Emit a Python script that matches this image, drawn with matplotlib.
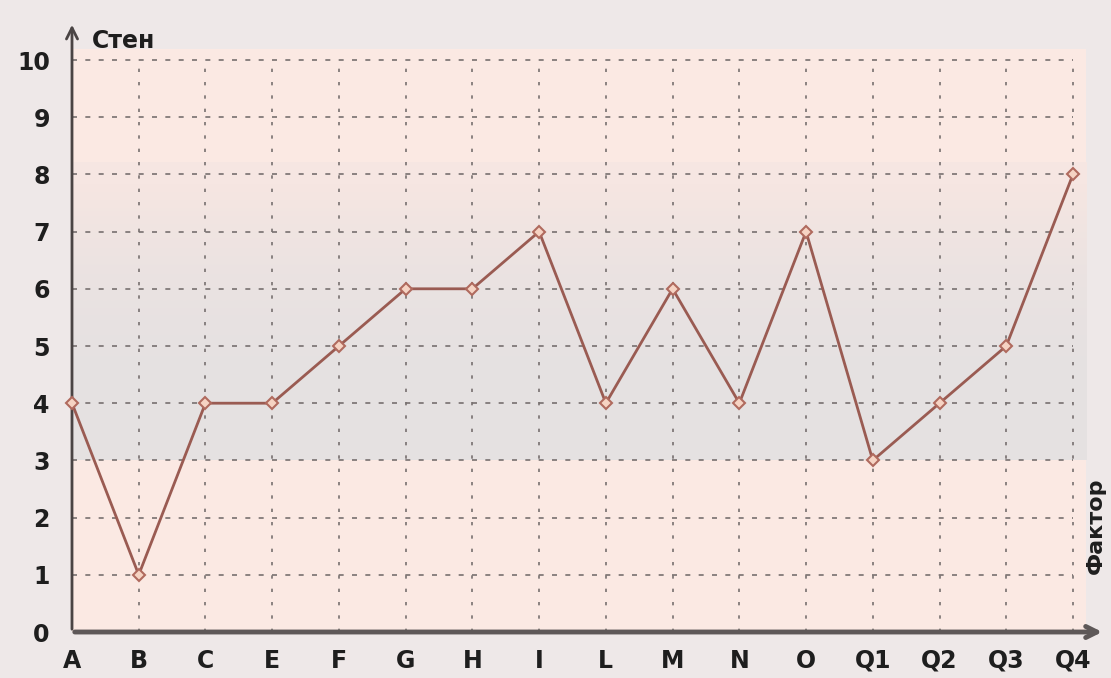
import matplotlib
matplotlib.use("Agg")
import matplotlib.pyplot as plt
import numpy as np
from matplotlib.patches import Rectangle

categories = ["A", "B", "C", "E", "F", "G", "H", "I", "L", "M", "N", "O", "Q1", "Q2", "Q3", "Q4"]
values = [4, 1, 4, 4, 5, 6, 6, 7, 4, 6, 4, 7, 3, 4, 5, 8]
yticks = [0, 1, 2, 3, 4, 5, 6, 7, 8, 9, 10]
ylabel = "Стен"
xlabel = "Фактор"

fig = plt.figure(figsize=(11.11, 6.78), dpi=100, facecolor="#eee8e8")
ax = fig.add_axes([72/1111, 1-632/678, (1105-72)/1111, (632-22)/678])
n = len(categories)
x = np.arange(n)
xmax = (1105-72)/((1073-72)/(n-1))
ymax = (632-22)/((632-60)/10)
ax.set_xlim(0, xmax)
ax.set_ylim(0, ymax)
ax.set_facecolor("none")
for s in ax.spines.values():
    s.set_visible(False)

# backgrounds
ax.add_patch(Rectangle((0, 0), n-1+0.2, 10.2, facecolor="#fbe9e3", edgecolor="none", zorder=0))
grad = np.array([[1.0], [1.0], [0.95], [0.85], [0.7], [0.45], [0.2]])
ax.imshow(grad, extent=(0, n-1+0.2, 3, 8.2), aspect="auto",
          cmap=matplotlib.colors.LinearSegmentedColormap.from_list("g", ["#f6e6e2", "#e5e1e1"]),
          interpolation="bilinear", zorder=0.5, origin="lower")

# grid
ax.hlines(yticks[1:], 0, n-1, colors="#77706f", linestyles=(0, (3, 5)), linewidth=1.2, zorder=1)
ax.vlines(x[1:], 0, 10, colors="#77706f", linestyles=(0, (2, 6)), linewidth=1.2, zorder=1)

# axes with arrows
ax.annotate("", xy=(xmax, 0), xytext=(0, 0), xycoords="data",
            arrowprops=dict(arrowstyle="->,head_length=0.8,head_width=0.4", color="#5e5858", lw=3.5), annotation_clip=False, zorder=3)
ax.annotate("", xy=(0, ymax), xytext=(0, 0), xycoords="data",
            arrowprops=dict(arrowstyle="->,head_length=0.8,head_width=0.4", color="#4a4444", lw=2), annotation_clip=False, zorder=3)

# data line
ax.plot(x, values, color="#9a5b52", linewidth=2, zorder=4, clip_on=False)
ax.plot(x, values, linestyle="none", marker="D", markersize=6, markerfacecolor="#f6d3c3",
        markeredgecolor="#b06a5e", markeredgewidth=1.5, zorder=5, clip_on=False)

ax.set_xticks(x)
ax.set_xticklabels(categories, fontsize=17, fontweight="bold", color="#1e1e1e")
ax.set_yticks(yticks)
ax.set_yticklabels([str(v) for v in yticks], fontsize=17, fontweight="bold", color="#1e1e1e")
ax.tick_params(axis="both", length=0)
ax.tick_params(axis="x", pad=12)
ax.tick_params(axis="y", pad=16)

ax.text(0.3, 10.33, ylabel, fontsize=17, fontweight="bold", color="#1e1e1e", ha="left", va="center")
ax.text(xmax - 0.14, 1.85, xlabel, fontsize=16, fontweight="bold", color="#1e1e1e", ha="center", va="center", rotation=90)

fig.savefig("out.png", dpi=100, facecolor=fig.get_facecolor())
